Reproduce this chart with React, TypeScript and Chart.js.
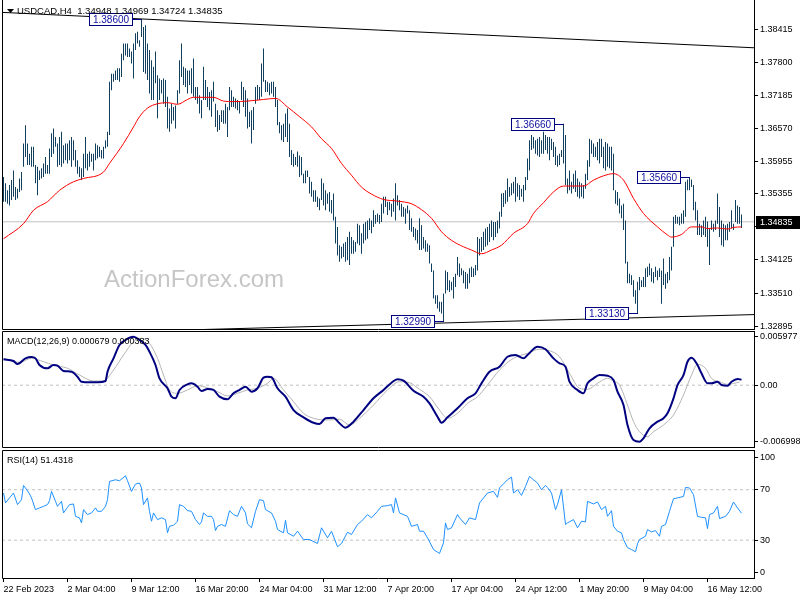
import React, { useEffect, useRef } from "react";
import { Chart, registerables } from "chart.js";

Chart.register(...registerables);

const FONT = "'Liberation Sans', Arial, sans-serif";

// ---------------- data ----------------
const SYMBOL = "USDCAD,H4";
const LAST_OHLC = ["1.34948", "1.34969", "1.34724", "1.34835"];
const LAST_PRICE = 1.34835;

const HIGHS = [
  1.3567,1.3555,1.3542,1.3552,1.3561,1.3579,1.3548,1.3545,1.3564,1.3576,
  1.3629,1.3663,1.3629,1.3610,1.3623,1.3623,1.3589,1.3586,1.3579,1.3583,
  1.3592,1.3604,1.3589,1.3620,1.3648,1.3657,1.3641,1.3629,1.3641,1.3651,
  1.3626,1.3629,1.3629,1.3635,1.3641,1.3635,1.3617,1.3598,1.3586,1.3583,
  1.3610,1.3641,1.3610,1.3614,1.3610,1.3610,1.3629,1.3626,1.3623,1.3617,
  1.3623,1.3635,1.3651,1.3744,1.3759,1.3759,1.3765,1.3769,1.3769,1.3796,
  1.3815,1.3815,1.3815,1.3806,1.3800,1.3815,1.3834,1.3837,1.3821,1.3860,
  1.3846,1.3849,1.3815,1.3803,1.3784,1.3772,1.3800,1.3756,1.3750,1.3747,
  1.3750,1.3747,1.3716,1.3694,1.3703,1.3697,1.3700,1.3728,1.3784,1.3815,
  1.3772,1.3769,1.3765,1.3765,1.3769,1.3787,1.3734,1.3734,1.3719,1.3710,
  1.3772,1.3747,1.3734,1.3725,1.3728,1.3744,1.3703,1.3691,1.3682,1.3691,
  1.3691,1.3703,1.3697,1.3734,1.3728,1.3716,1.3713,1.3710,1.3707,1.3744,
  1.3734,1.3728,1.3713,1.3688,1.3691,1.3697,1.3734,1.3738,1.3734,1.3778,
  1.3806,1.3747,1.3744,1.3741,1.3744,1.3744,1.3734,1.3710,1.3669,1.3663,
  1.3666,1.3685,1.3694,1.3666,1.3617,1.3610,1.3604,1.3614,1.3607,1.3604,
  1.3573,1.3579,1.3579,1.3567,1.3558,1.3542,1.3542,1.3530,1.3527,1.3564,
  1.3555,1.3542,1.3536,1.3539,1.3524,1.3536,1.3493,1.3474,1.3440,1.3437,
  1.3443,1.3446,1.3455,1.3465,1.3455,1.3449,1.3446,1.3480,1.3477,1.3462,
  1.3480,1.3483,1.3486,1.3490,1.3486,1.3505,1.3496,1.3499,1.3496,1.3517,
  1.3530,1.3530,1.3521,1.3521,1.3517,1.3527,1.3555,1.3533,1.3524,1.3517,
  1.3511,1.3508,1.3514,1.3505,1.3490,1.3474,1.3471,1.3468,1.3490,1.3477,
  1.3455,1.3449,1.3443,1.3440,1.3406,1.3393,1.3347,1.3347,1.3335,1.3335,
  1.3350,1.3393,1.3390,1.3375,1.3372,1.3381,1.3387,1.3418,1.3406,1.3397,
  1.3393,1.3390,1.3387,1.3397,1.3400,1.3397,1.3403,1.3455,1.3452,1.3455,
  1.3465,1.3471,1.3474,1.3480,1.3486,1.3483,1.3483,1.3486,1.3502,1.3536,
  1.3537,1.3542,1.3564,1.3548,1.3555,1.3558,1.3567,1.3555,1.3552,1.3545,
  1.3552,1.3567,1.3601,1.3635,1.3645,1.3641,1.3635,1.3638,1.3641,1.3635,
  1.3651,1.3645,1.3641,1.3641,1.3638,1.3632,1.3623,1.3607,1.3610,1.3617,
  1.3666,1.3645,1.3564,1.3579,1.3558,1.3573,1.3579,1.3564,1.3558,1.3555,
  1.3552,1.3573,1.3598,1.3638,1.3635,1.3629,1.3623,1.3632,1.3638,1.3638,
  1.3623,1.3632,1.3629,1.3623,1.3623,1.3610,1.3542,1.3539,1.3527,1.3514,
  1.3517,1.3486,1.3409,1.3387,1.3384,1.3375,1.3356,1.3372,1.3381,1.3375,
  1.3381,1.3397,1.3400,1.3406,1.3397,1.3390,1.3400,1.3393,1.3397,1.3393,
  1.3415,1.3387,1.3390,1.3418,1.3437,1.3493,1.3496,1.3493,1.3493,1.3499,
  1.3505,1.3558,1.3562,1.3566,1.3562,1.3552,1.3521,1.3505,1.3480,1.3477,
  1.3486,1.3493,1.3484,1.3471,1.3486,1.3480,1.3486,1.3536,1.3511,1.3486,
  1.3480,1.3477,1.3480,1.3483,1.3505,1.3480,1.3524,1.3514,1.3511,1.3497,
];

const LOWS = [
  1.3521,1.3521,1.3517,1.3514,1.3524,1.3530,1.3524,1.3527,1.3539,1.3542,
  1.3586,1.3604,1.3589,1.3589,1.3586,1.3586,1.3555,1.3533,1.3561,1.3564,
  1.3567,1.3573,1.3573,1.3573,1.3604,1.3610,1.3623,1.3586,1.3589,1.3586,
  1.3592,1.3598,1.3592,1.3598,1.3586,1.3598,1.3586,1.3573,1.3567,1.3561,
  1.3567,1.3583,1.3579,1.3586,1.3595,1.3579,1.3598,1.3601,1.3604,1.3601,
  1.3601,1.3620,1.3623,1.3645,1.3728,1.3744,1.3747,1.3747,1.3744,1.3753,
  1.3784,1.3793,1.3790,1.3790,1.3778,1.3750,1.3803,1.3815,1.3809,1.3827,
  1.3762,1.3759,1.3747,1.3722,1.3710,1.3710,1.3741,1.3676,1.3710,1.3722,
  1.3703,1.3697,1.3657,1.3651,1.3666,1.3672,1.3657,1.3703,1.3722,1.3753,
  1.3738,1.3734,1.3722,1.3738,1.3722,1.3716,1.3710,1.3703,1.3685,1.3676,
  1.3710,1.3710,1.3697,1.3691,1.3679,1.3707,1.3660,1.3651,1.3654,1.3669,
  1.3666,1.3666,1.3641,1.3691,1.3697,1.3697,1.3694,1.3691,1.3685,1.3710,
  1.3697,1.3679,1.3657,1.3660,1.3629,1.3654,1.3703,1.3710,1.3710,1.3716,
  1.3744,1.3725,1.3725,1.3719,1.3722,1.3716,1.3697,1.3663,1.3648,1.3635,
  1.3632,1.3641,1.3632,1.3604,1.3589,1.3586,1.3589,1.3586,1.3567,1.3570,
  1.3555,1.3555,1.3567,1.3536,1.3530,1.3521,1.3521,1.3511,1.3505,1.3524,
  1.3514,1.3505,1.3517,1.3502,1.3499,1.3486,1.3443,1.3421,1.3409,1.3415,
  1.3418,1.3409,1.3412,1.3403,1.3424,1.3424,1.3428,1.3443,1.3440,1.3424,
  1.3443,1.3449,1.3452,1.3468,1.3462,1.3474,1.3480,1.3483,1.3480,1.3483,
  1.3499,1.3511,1.3496,1.3505,1.3493,1.3502,1.3486,1.3514,1.3505,1.3493,
  1.3493,1.3480,1.3499,1.3468,1.3465,1.3455,1.3449,1.3443,1.3431,1.3431,
  1.3434,1.3428,1.3428,1.3406,1.3390,1.3341,1.3331,1.3322,1.3316,1.3313,
  1.3299,1.3350,1.3356,1.3353,1.3356,1.3341,1.3362,1.3384,1.3381,1.3384,
  1.3369,1.3359,1.3359,1.3369,1.3381,1.3381,1.3384,1.3393,1.3421,1.3428,
  1.3431,1.3437,1.3440,1.3446,1.3455,1.3449,1.3455,1.3462,1.3471,1.3493,
  1.3511,1.3517,1.3521,1.3530,1.3533,1.3536,1.3521,1.3530,1.3524,1.3530,
  1.3521,1.3542,1.3561,1.3579,1.3617,1.3620,1.3610,1.3607,1.3604,1.3610,
  1.3610,1.3617,1.3610,1.3598,1.3617,1.3604,1.3589,1.3586,1.3589,1.3604,
  1.3592,1.3552,1.3536,1.3542,1.3536,1.3545,1.3539,1.3530,1.3527,1.3530,
  1.3527,1.3545,1.3561,1.3586,1.3610,1.3604,1.3604,1.3598,1.3592,1.3604,
  1.3583,1.3579,1.3586,1.3583,1.3579,1.3542,1.3517,1.3514,1.3499,1.3490,
  1.3468,1.3406,1.3369,1.3369,1.3366,1.3344,1.3331,1.3313,1.3356,1.3362,
  1.3362,1.3362,1.3381,1.3384,1.3372,1.3369,1.3381,1.3375,1.3381,1.3331,
  1.3366,1.3359,1.3369,1.3375,1.3393,1.3437,1.3480,1.3480,1.3477,1.3480,
  1.3480,1.3493,1.3542,1.3542,1.3548,1.3505,1.3486,1.3459,1.3459,1.3455,
  1.3459,1.3455,1.3437,1.3403,1.3468,1.3465,1.3468,1.3480,1.3455,1.3440,
  1.3437,1.3449,1.3449,1.3465,1.3471,1.3468,1.3483,1.3480,1.3480,1.3472,
];

const MA_IDX = [0,10,15,22,28,35,40,50,53,60,65,68,72,77,82,87,92,95,105,110,115,122,130,136,142,148,154,159,164,169,174,179,184,190,197,204,209,214,219,224,230,234,239,244,249,255,262,265,270,275,280,290,295,300,305,310,315,320,327,332,334,339,344,349,352,357,362,365,369];
const MA_VAL = [1.3452,1.3480,1.3505,1.3521,1.3542,1.3558,1.3564,1.3576,1.3592,1.3629,1.3660,1.3679,1.3695,1.3703,1.3705,1.3702,1.3711,1.3715,1.3715,1.3708,1.3707,1.3708,1.3711,1.3713,1.3697,1.3679,1.3660,1.3638,1.3620,1.3592,1.3570,1.3548,1.3535,1.3525,1.3522,1.3517,1.3506,1.3490,1.3465,1.3449,1.3437,1.3431,1.3424,1.3431,1.3440,1.3462,1.3480,1.3499,1.3519,1.3539,1.3550,1.3550,1.3561,1.3569,1.3573,1.3561,1.3527,1.3499,1.3474,1.3459,1.3455,1.3460,1.3474,1.3474,1.3471,1.3472,1.3470,1.3473,1.3474];

const UPPER_TREND_IDX = [-1, 376];
const UPPER_TREND_VAL = [1.3873, 1.3807];
const LOWER_TREND_IDX = [-1, 376];
const LOWER_TREND_VAL = [1.3273, 1.3311];

const MARK_IDX = [69, 220, 280, 317, 343];
const MARK_VAL = [1.386, 1.3299, 1.3666, 1.3313, 1.3566];

const PRICE_TICKS = [1.32895, 1.3351, 1.34125, 1.3474, 1.35355, 1.35955, 1.3657, 1.37185, 1.378, 1.38415];
const PRICE_TICK_LABELS = ["1.32895", "1.33510", "1.34125", "1.34740", "1.35355", "1.35955", "1.36570", "1.37185", "1.37800", "1.38415"];

const MACD_IDX = [0,5,7,11,14,16,18,22,25,27,30,34,37,39,43,47,51,52,55,58,61,65,68,71,73,76,78,82,84,86,88,92,94,97,99,102,105,108,112,115,118,121,124,127,130,132,134,137,141,145,150,155,158,161,165,168,171,175,180,185,190,194,197,200,205,210,213,217,219,222,227,232,236,239,243,248,252,256,260,262,267,271,275,278,281,283,287,290,292,295,298,302,305,307,310,312,315,318,320,323,327,330,332,335,337,340,342,344,347,349,352,354,357,359,362,364,367,369];
const MACD_VAL = [0.00320,0.00299,0.00262,0.00332,0.00349,0.00332,0.00250,0.00209,0.00250,0.00241,0.00176,0.00167,0.00105,0.00043,0.00036,0.00036,0.00052,0.00167,0.00332,0.00497,0.00559,0.00598,0.00559,0.00497,0.00414,0.00250,0.00085,-0.00038,-0.00142,-0.00162,-0.00059,0.00011,0.00023,-0.00019,-0.00072,-0.00047,-0.00059,-0.00142,-0.00174,-0.00100,-0.00059,-0.00019,-0.00080,-0.00038,0.00093,0.00105,0.00098,-0.00038,-0.00142,-0.00307,-0.00397,-0.00464,-0.00480,-0.00409,-0.00402,-0.00471,-0.00525,-0.00451,-0.00307,-0.00162,-0.00059,0.00031,0.00073,0.00056,-0.00068,-0.00142,-0.00224,-0.00389,-0.00464,-0.00397,-0.00286,-0.00162,-0.00100,0.00023,0.00167,0.00229,0.00352,0.00373,0.00332,0.00373,0.00476,0.00444,0.00332,0.00271,0.00229,0.00043,-0.00059,-0.00100,0.00023,0.00085,0.00126,0.00117,0.00064,-0.00080,-0.00245,-0.00492,-0.00677,-0.00698,-0.00656,-0.00533,-0.00451,-0.00409,-0.00347,-0.00162,0.00002,0.00126,0.00290,0.00340,0.00250,0.00147,0.00023,0.00023,0.00043,0.00002,-0.00006,0.00043,0.00077,0.00068];

const SIGNAL_IDX = [0,8,14,20,25,32,38,45,50,55,60,65,69,73,77,80,83,87,92,97,102,107,112,117,122,127,132,135,140,145,150,155,162,168,173,178,185,192,198,203,208,213,218,222,227,232,237,242,248,255,262,268,273,278,283,288,292,297,302,305,308,312,315,318,322,325,330,335,340,344,347,351,354,358,362,368];
const SIGNAL_VAL = [0.00332,0.00283,0.00332,0.00290,0.00250,0.00209,0.00126,0.00052,0.00052,0.00188,0.00373,0.00538,0.00580,0.00518,0.00332,0.00126,-0.00059,-0.00100,-0.00059,-0.00006,-0.00031,-0.00080,-0.00133,-0.00100,-0.00059,-0.00038,0.00023,0.00085,-0.00059,-0.00204,-0.00347,-0.00409,-0.00430,-0.00421,-0.00492,-0.00409,-0.00245,-0.00059,0.00043,0.00031,-0.00051,-0.00142,-0.00307,-0.00409,-0.00347,-0.00224,-0.00142,0.00002,0.00188,0.00332,0.00394,0.00444,0.00426,0.00352,0.00147,-0.00038,-0.00051,0.00023,0.00085,0.00052,0.00002,-0.00245,-0.00451,-0.00575,-0.00637,-0.00575,-0.00492,-0.00368,-0.00121,0.00126,0.00258,0.00209,0.00085,0.00043,0.00011,0.00038];

const MACD_TICKS = [-0.006998, 0, 0.005977];
const MACD_TICK_LABELS = ["-0.006998", "0.00", "0.005977"];
const MACD_TITLE = "MACD(12,26,9) 0.000679 0.000383";

const RSI_IDX = [0,1,3,5,7,9,10,12,13,14,16,18,20,22,23,24,26,27,29,30,32,33,35,36,38,39,40,42,44,46,47,49,51,52,53,56,58,61,62,64,66,68,69,70,72,73,74,75,77,79,81,82,83,85,87,88,90,92,94,96,98,99,100,102,104,105,106,107,109,111,113,115,117,119,121,122,124,126,128,130,131,134,136,137,140,141,142,145,147,150,153,157,159,162,164,167,169,172,174,177,179,182,184,187,189,192,194,195,196,198,202,204,207,208,210,212,215,217,218,220,221,222,224,227,228,231,233,236,238,242,245,247,248,252,254,255,257,259,261,263,265,267,269,271,272,274,276,277,279,281,282,285,287,289,291,292,295,297,299,301,302,304,305,307,309,310,312,314,316,317,318,321,322,324,326,328,329,331,333,335,337,340,341,343,345,347,349,351,352,353,355,357,358,361,363,365,367,369];
const RSI_VAL = [67.4,59.5,63.5,67.4,58.2,62.1,73.4,69.2,66.6,63.5,54.2,55.6,56.8,58.2,61.3,68.7,60.8,56.8,60.8,51.6,56.0,58.2,58.7,48.9,47.7,43.7,54.2,50.3,51.6,55.6,52.9,52.9,56.8,62.1,76.6,77.9,77.1,81.1,77.1,68.7,74.5,75.3,71.4,58.2,63.5,52.9,45.0,51.6,46.3,47.7,46.3,35.8,41.0,41.8,45.0,58.2,56.8,53.4,52.9,46.3,42.4,44.5,51.6,48.9,48.9,46.3,37.6,41.0,42.4,41.0,53.4,50.3,48.9,56.8,51.6,42.9,39.8,52.9,62.1,61.3,54.2,51.6,45.0,38.4,35.8,45.8,35.8,33.1,37.1,30.5,30.5,27.4,39.8,31.9,37.1,24.8,27.4,36.3,34.5,42.4,45.0,50.3,47.7,52.9,56.8,57.4,58.2,51.6,63.5,51.6,48.9,41.0,42.4,37.1,37.1,31.9,22.6,20.5,19.5,27.9,43.7,38.4,39.8,50.3,47.7,42.4,47.7,46.3,59.5,67.4,68.7,63.9,71.4,77.9,80.0,67.4,70.0,65.5,72.6,80.5,77.9,75.3,70.0,73.4,71.8,67.4,54.2,58.2,70.0,42.4,43.7,46.3,39.8,45.0,44.5,60.8,58.7,60.3,54.2,56.8,48.9,53.4,41.0,37.1,35.8,30.5,24.0,22.6,20.8,27.1,30.5,33.1,38.4,36.6,37.6,33.1,41.0,42.4,52.9,62.9,63.5,64.7,71.8,71.4,66.1,48.9,48.1,47.7,39.2,50.3,51.6,56.8,47.1,48.9,52.9,60.3,55.6,51.4];
const RSI_LEVELS = [30, 70];
const RSI_TICKS = [4.2, 30, 70, 95.4];
const RSI_TICK_LABELS = ["0", "30", "70", "100"];
const RSI_TITLE = "RSI(14) 51.4318";

const DATE_TICKS = [0, 32, 64, 96, 128, 160, 192, 224, 256, 288, 320, 352];
const DATE_LABELS = ["22 Feb 2023", "2 Mar 04:00", "9 Mar 12:00", "16 Mar 20:00", "24 Mar 04:00", "31 Mar 12:00", "7 Apr 20:00", "17 Apr 04:00", "24 Apr 12:00", "1 May 20:00", "9 May 04:00", "16 May 12:00"];

const WATERMARK = "ActionForex.com";

// ---------------- view settings ----------------
const X_MIN = -0.75;
const X_MAX = 375.25;
const PRICE_MIN = 1.32841;
const PRICE_MAX = 1.3896;
const MACD_MIN = -0.00764;
const MACD_MAX = 0.0067;
const RSI_MIN = 0;
const RSI_MAX = 101.5;

const BAR_COLOR = "#123f5e";
const GRID_GRAY = "#c0c0c0";

function xAxis(show: boolean): any {
  return {
    type: "linear",
    min: X_MIN,
    max: X_MAX,
    offset: false,
    display: show,
    grid: { display: show, drawOnChartArea: false, drawTicks: true, tickLength: 4, color: "#000" },
    border: { display: false },
    afterBuildTicks: (s: any) => {
      s.ticks = DATE_TICKS.map((v) => ({ value: v }));
    },
    afterFit: (s: any) => {
      if (show) {
        s.height = 22;
      } else {
        s.height = 0;
      }
      s.paddingLeft = 0;
      s.paddingRight = 0;
    },
    ticks: {
      autoSkip: false,
      maxRotation: 0,
      minRotation: 0,
      align: "start",
      padding: 2,
      color: "#000",
      font: { size: 9, family: FONT },
      callback: (_v: any, i: number) => DATE_LABELS[i],
    },
  };
}

function yAxis(min: number, max: number, ticks: number[], labels: string[]): any {
  return {
    position: "right",
    min,
    max,
    grid: { display: true, drawOnChartArea: false, drawTicks: true, tickLength: 4, color: "#000" },
    border: { display: true, color: "#000" },
    afterBuildTicks: (s: any) => {
      s.ticks = ticks.map((v) => ({ value: v }));
    },
    afterFit: (s: any) => {
      s.width = 46;
      s.paddingTop = 0;
      s.paddingBottom = 0;
    },
    ticks: {
      autoSkip: false,
      padding: 2,
      color: "#000",
      font: { size: 9, family: FONT },
      callback: (_v: any, i: number) => labels[i],
    },
  };
}

function lineSet(idx: number[], val: number[], color: string, width: number, extra: any = {}): any {
  return {
    type: "line",
    data: idx.map((x, k) => ({ x, y: val[k] })),
    borderColor: color,
    backgroundColor: color,
    borderWidth: width,
    pointRadius: 0,
    fill: false,
    ...extra,
  };
}

function framePlugin(drawTop: boolean): any {
  return {
    id: "paneFrame",
    afterDraw(chart: any) {
      const { ctx, chartArea: a } = chart;
      const l = Math.round(a.left) + 0.5;
      const r = Math.round(a.right) + 0.5;
      const t = Math.round(a.top) + 0.5;
      const b = Math.round(a.bottom) + 0.5;
      ctx.save();
      ctx.strokeStyle = "#000";
      ctx.lineWidth = 1;
      ctx.beginPath();
      ctx.moveTo(l, drawTop ? t : 0);
      ctx.lineTo(l, b);
      ctx.lineTo(r, b);
      ctx.lineTo(r, drawTop ? t : 0);
      if (drawTop) {
        ctx.moveTo(l, t);
        ctx.lineTo(r, t);
      }
      ctx.stroke();
      ctx.restore();
    },
  };
}

function titlePlugin(text: string, x: number): any {
  return {
    id: "paneTitle",
    afterDraw(chart: any) {
      const { ctx } = chart;
      ctx.save();
      ctx.fillStyle = "#000";
      ctx.font = `9px ${FONT}`;
      ctx.textBaseline = "alphabetic";
      ctx.textAlign = "left";
      ctx.fillText(text, x, 14);
      ctx.restore();
    },
  };
}

const pricePlugin: any = {
  id: "priceDecor",
  beforeDatasetsDraw(chart: any) {
    const { ctx, chartArea: a } = chart;
    ctx.save();
    ctx.fillStyle = "#c6c6c6";
    ctx.font = `24px ${FONT}`;
    ctx.textBaseline = "alphabetic";
    ctx.fillText(WATERMARK, a.left + 102, a.top + 287);
    ctx.restore();
  },
  afterDatasetsDraw(chart: any) {
    const { ctx } = chart;
    const xs = chart.scales.x;
    const ys = chart.scales.y;
    ctx.save();
    ctx.font = `10px ${FONT}`;
    ctx.textAlign = "center";
    ctx.textBaseline = "middle";
    ctx.lineWidth = 1;
    MARK_IDX.forEach((idx, k) => {
      const px = Math.round(xs.getPixelForValue(idx));
      const py = Math.round(ys.getPixelForValue(MARK_VAL[k])) + 0.5;
      const right = px - 10 + 0.5;
      const left = right - 43;
      ctx.strokeStyle = "#000080";
      ctx.beginPath();
      ctx.moveTo(right, py);
      ctx.lineTo(px, py);
      ctx.stroke();
      ctx.fillStyle = "#fff";
      ctx.fillRect(left, py - 6, 43, 12);
      ctx.strokeRect(left, py - 6, 43, 12);
      ctx.fillStyle = "#1010a0";
      ctx.fillText(MARK_VAL[k].toFixed(5), (left + right) / 2, py + 0.5);
    });
    ctx.restore();
  },
  afterDraw(chart: any) {
    const { ctx, chartArea: a } = chart;
    const ys = chart.scales.y;
    ctx.save();
    const yp = Math.round(ys.getPixelForValue(LAST_PRICE));
    ctx.fillStyle = "#000";
    ctx.fillRect(a.right + 2, yp - 6, 44, 13);
    ctx.fillStyle = "#fff";
    ctx.font = `9px ${FONT}`;
    ctx.textBaseline = "middle";
    ctx.textAlign = "left";
    ctx.fillText(LAST_PRICE.toFixed(5), a.right + 6, yp + 0.5);
    ctx.fillStyle = "#000";
    ctx.beginPath();
    ctx.moveTo(a.left + 5, 9);
    ctx.lineTo(a.left + 12, 9);
    ctx.lineTo(a.left + 8.5, 13);
    ctx.closePath();
    ctx.fill();
    ctx.font = `9.5px ${FONT}`;
    ctx.textBaseline = "alphabetic";
    ctx.fillText(`${SYMBOL}  ${LAST_OHLC.join(" ")}`, a.left + 15, 14);
    ctx.restore();
  },
};

const baseOptions = (padding: any): any => ({
  responsive: false,
  animation: false,
  devicePixelRatio: 1,
  events: [],
  layout: { padding },
  plugins: { legend: { display: false }, tooltip: { enabled: false } },
});

export default function App() {
  const priceRef = useRef<HTMLCanvasElement>(null);
  const macdRef = useRef<HTMLCanvasElement>(null);
  const rsiRef = useRef<HTMLCanvasElement>(null);

  useEffect(() => {
    Chart.defaults.font.family = FONT;
    const charts: any[] = [];

    charts.push(
      new Chart(priceRef.current as HTMLCanvasElement, {
        type: "bar",
        data: {
          datasets: [
            lineSet([X_MIN, X_MAX], [LAST_PRICE, LAST_PRICE], GRID_GRAY, 1, { order: 10 }),
            {
              type: "bar",
              data: HIGHS.map((h, i) => ({ x: i, y: [LOWS[i], h] })),
              backgroundColor: BAR_COLOR,
              borderWidth: 0,
              barThickness: 1,
              inflateAmount: 0,
              order: 5,
            } as any,
            lineSet(MA_IDX, MA_VAL, "#ff0000", 1, { order: 3, cubicInterpolationMode: "monotone" }),
            lineSet(UPPER_TREND_IDX, UPPER_TREND_VAL, "#000", 1, { order: 1 }),
            lineSet(LOWER_TREND_IDX, LOWER_TREND_VAL, "#000", 1, { order: 1 }),
          ],
        },
        options: {
          ...baseOptions({ left: 2, top: 0, right: 0, bottom: 1 }),
          scales: {
            x: xAxis(false),
            y: yAxis(PRICE_MIN, PRICE_MAX, PRICE_TICKS, PRICE_TICK_LABELS),
          },
        },
        plugins: [pricePlugin, framePlugin(false)],
      } as any)
    );

    charts.push(
      new Chart(macdRef.current as HTMLCanvasElement, {
        type: "line",
        data: {
          datasets: [
            lineSet([X_MIN, X_MAX], [0, 0], GRID_GRAY, 1, { borderDash: [3, 3], order: 10 }),
            lineSet(SIGNAL_IDX, SIGNAL_VAL, "#b4b4b4", 1, { order: 5, cubicInterpolationMode: "monotone" }),
            lineSet(MACD_IDX, MACD_VAL, "#000080", 2, { order: 1, cubicInterpolationMode: "monotone" }),
          ],
        },
        options: {
          ...baseOptions({ left: 2, top: 1, right: 0, bottom: 1 }),
          scales: {
            x: xAxis(false),
            y: yAxis(MACD_MIN, MACD_MAX, MACD_TICKS, MACD_TICK_LABELS),
          },
        },
        plugins: [framePlugin(true), titlePlugin(MACD_TITLE, 7)],
      } as any)
    );

    charts.push(
      new Chart(rsiRef.current as HTMLCanvasElement, {
        type: "line",
        data: {
          datasets: [
            ...RSI_LEVELS.map((lv) =>
              lineSet([X_MIN, X_MAX], [lv, lv], GRID_GRAY, 1, { borderDash: [3, 3], order: 10 })
            ),
            lineSet(RSI_IDX, RSI_VAL, "#1e90ff", 1, { order: 1 }),
          ],
        },
        options: {
          ...baseOptions({ left: 2, top: 1, right: 0, bottom: 0 }),
          scales: {
            x: xAxis(true),
            y: yAxis(RSI_MIN, RSI_MAX, RSI_TICKS, RSI_TICK_LABELS),
          },
        },
        plugins: [framePlugin(true), titlePlugin(RSI_TITLE, 7)],
      } as any)
    );

    return () => {
      charts.forEach((c) => c.destroy());
    };
  }, []);

  return (
    <div style={{ position: "fixed", left: 0, top: 0, width: 800, height: 600, background: "#fff", overflow: "hidden" }}>
      <canvas ref={priceRef} width={800} height={330} style={{ position: "absolute", left: 0, top: 0 }} />
      <canvas ref={macdRef} width={800} height={118} style={{ position: "absolute", left: 0, top: 330 }} />
      <canvas ref={rsiRef} width={800} height={151} style={{ position: "absolute", left: 0, top: 449 }} />
    </div>
  );
}
